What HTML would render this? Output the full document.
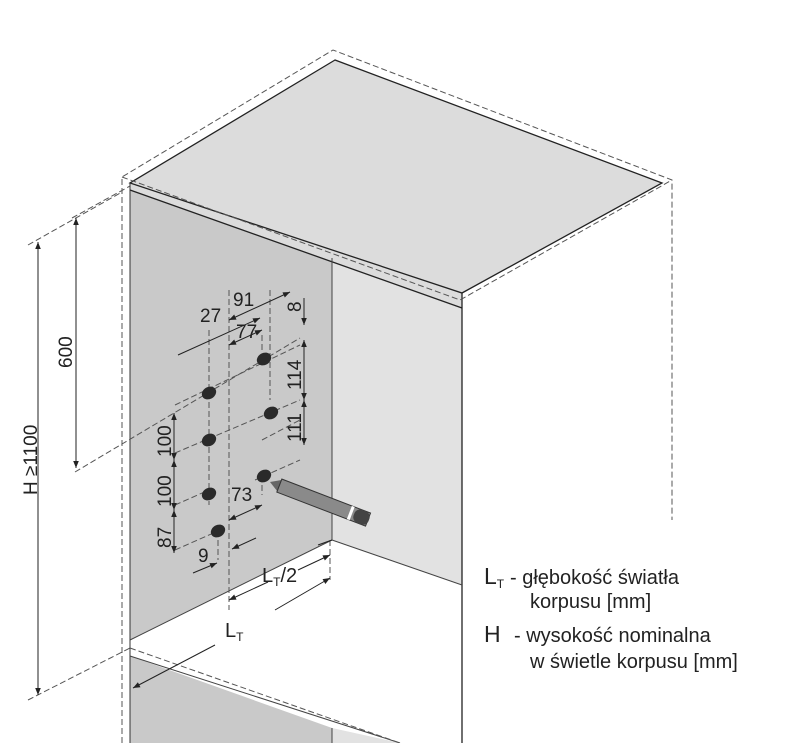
<!DOCTYPE html>
<html><head><meta charset="utf-8"><style>
html,body{margin:0;padding:0;background:#fff;}
svg{display:block;font-family:"Liberation Sans",sans-serif;}
</style></head><body>
<svg width="800" height="743" viewBox="0 0 800 743" xmlns="http://www.w3.org/2000/svg">
<defs>
<marker id="a" viewBox="0 0 10 10" refX="10" refY="5" markerWidth="9" markerHeight="7" orient="auto-start-reverse" markerUnits="userSpaceOnUse"><path d="M0,1 L10,5 L0,9z" fill="#222"/></marker>
</defs>
<polygon points="332,258 462,305 462,585 332,540" fill="#e2e2e2"/>
<polygon points="130,188 332,258 332,540 130,640" fill="#c9c9c9"/>
<polygon points="130,640 332,540 462,585 462,743 400,743 130,648" fill="#fff"/>
<polygon points="130,656 332,728 332,743 130,743" fill="#c9c9c9"/>
<polygon points="332,728 400,743 332,743" fill="#e2e2e2"/>
<polygon points="335,60 130,183 130,190 462,308 462,293 662,183" fill="#dcdcdc"/>
<polygon points="335,60 130,183 462,293 662,183" fill="#dcdcdc" stroke="#222" stroke-width="1.3"/>
<polyline points="130,190 462,308" fill="none" stroke="#222" stroke-width="1.3"/>
<line x1="462" y1="293" x2="462" y2="743" stroke="#222" stroke-width="1.3"/>
<line x1="130" y1="183" x2="130" y2="743" stroke="#333" stroke-width="1"/>
<line x1="332" y1="258" x2="332" y2="540" stroke="#444" stroke-width="1"/>
<line x1="332" y1="540" x2="462" y2="585" stroke="#444" stroke-width="1"/>
<line x1="130" y1="640" x2="332" y2="540" stroke="#444" stroke-width="1"/>
<line x1="130" y1="656" x2="400" y2="743" stroke="#444" stroke-width="1"/>
<line x1="332" y1="728" x2="332" y2="743" stroke="#444" stroke-width="1"/>
<g fill="none" stroke="#555" stroke-width="1" stroke-dasharray="6,3">
<polyline points="122,743 122,177 333,50 672,180 672,520"/>
<polyline points="122,177 460,300 672,180"/>
<line x1="72" y1="218" x2="130" y2="186"/>
<line x1="28" y1="245" x2="122" y2="192"/>
<line x1="75" y1="472" x2="300" y2="338"/>
<line x1="28" y1="700" x2="130" y2="648"/>
<line x1="130" y1="648" x2="400" y2="743"/>
<line x1="229" y1="290" x2="229" y2="610"/>
<line x1="209" y1="330" x2="209" y2="505"/>
<line x1="270" y1="290" x2="270" y2="400"/>
<line x1="262" y1="335" x2="262" y2="350"/>
<line x1="330" y1="540" x2="330" y2="580"/>
<line x1="175" y1="405" x2="300" y2="345" />
<line x1="175" y1="453" x2="300" y2="400"/>
<line x1="175" y1="505" x2="209" y2="490"/>
<line x1="175" y1="550" x2="218" y2="531"/>
<line x1="262" y1="440" x2="300" y2="420"/>
<line x1="255" y1="480" x2="300" y2="460"/>
<line x1="218" y1="531" x2="218" y2="560"/>
<line x1="262" y1="476" x2="262" y2="495"/>
</g>
<g stroke="#222" stroke-width="1" fill="none">
<line x1="38" y1="242" x2="38" y2="695" marker-start="url(#a)" marker-end="url(#a)"/>
<line x1="76" y1="218" x2="76" y2="468" marker-start="url(#a)" marker-end="url(#a)"/>
<line x1="178" y1="355" x2="260" y2="318" marker-end="url(#a)"/>
<line x1="229" y1="320" x2="290" y2="292" marker-start="url(#a)" marker-end="url(#a)"/>
<line x1="229" y1="345" x2="262" y2="330" marker-start="url(#a)" marker-end="url(#a)"/>
<line x1="304" y1="298" x2="304" y2="325" marker-end="url(#a)"/>
<line x1="304" y1="340" x2="304" y2="400" marker-start="url(#a)" marker-end="url(#a)"/>
<line x1="304" y1="400" x2="304" y2="445" marker-start="url(#a)" marker-end="url(#a)"/>
<line x1="174" y1="413" x2="174" y2="460" marker-start="url(#a)" marker-end="url(#a)"/>
<line x1="174" y1="460" x2="174" y2="510" marker-start="url(#a)" marker-end="url(#a)"/>
<line x1="174" y1="510" x2="174" y2="553" marker-start="url(#a)" marker-end="url(#a)"/>
<line x1="229" y1="520" x2="262" y2="505" marker-start="url(#a)" marker-end="url(#a)"/>
<line x1="193" y1="573" x2="217" y2="563" marker-end="url(#a)"/>
<line x1="256" y1="538" x2="232" y2="549" marker-end="url(#a)"/>
<line x1="229" y1="600" x2="268" y2="582" marker-start="url(#a)"/>
<line x1="298" y1="570" x2="330" y2="555" marker-end="url(#a)"/>
<line x1="318" y1="545" x2="332" y2="540"/>
<line x1="275" y1="610" x2="330" y2="578" marker-end="url(#a)"/>
<line x1="215" y1="645" x2="133" y2="688" marker-end="url(#a)"/>
</g>
<g fill="#2a2a2a">
<ellipse cx="209" cy="393" rx="7.5" ry="6" transform="rotate(-30 209 393)"/>
<ellipse cx="209" cy="440" rx="7.5" ry="6" transform="rotate(-30 209 440)"/>
<ellipse cx="209" cy="494" rx="7.5" ry="6" transform="rotate(-30 209 494)"/>
<ellipse cx="218" cy="531" rx="7.5" ry="6" transform="rotate(-30 218 531)"/>
<ellipse cx="264" cy="359" rx="7.5" ry="6" transform="rotate(-30 264 359)"/>
<ellipse cx="271" cy="413" rx="7.5" ry="6" transform="rotate(-30 271 413)"/>
<ellipse cx="264" cy="476" rx="7.5" ry="6" transform="rotate(-30 264 476)"/>
</g>
<g transform="rotate(21 270 482)">
<polygon points="270,482 280,476 280,488" fill="#666"/>
<rect x="280" y="475" width="95" height="14" fill="#8a8a8a" stroke="#333" stroke-width="1"/>
<rect x="355" y="475" width="3" height="14" fill="#fff"/>
<rect x="360" y="475" width="16" height="14" rx="6" fill="#444"/>
</g>
<g font-size="19" fill="#222">
<text x="200" y="322">27</text>
<text x="233" y="306">91</text>
<text x="236" y="338">77</text>
<text x="231" y="501">73</text>
<text x="198" y="562">9</text>
<text transform="translate(301,312) rotate(-90)">8</text>
<text transform="translate(301,390) rotate(-90)">114</text>
<text transform="translate(301,442) rotate(-90)">111</text>
<text transform="translate(171,457) rotate(-90)">100</text>
<text transform="translate(171,507) rotate(-90)">100</text>
<text transform="translate(171,548) rotate(-90)">87</text>
<text transform="translate(72,368) rotate(-90)">600</text>
<text transform="translate(37,495) rotate(-90)">H ≥1100</text>
</g>
<g font-size="20" fill="#222">
<text x="262" y="582">L<tspan font-size="12" dy="4">T</tspan><tspan dy="-4">/2</tspan></text>
<text x="225" y="637">L<tspan font-size="12" dy="4">T</tspan></text>
<text x="484" y="584" font-size="23">L<tspan font-size="12" dy="4">T</tspan></text>
<text x="510" y="584">- głębokość światła</text>
<text x="530" y="608">korpusu [mm]</text>
<text x="484" y="642" font-size="23">H</text>
<text x="514" y="642">- wysokość nominalna</text>
<text x="530" y="668">w świetle korpusu [mm]</text>
</g>
</svg>
</body></html>
